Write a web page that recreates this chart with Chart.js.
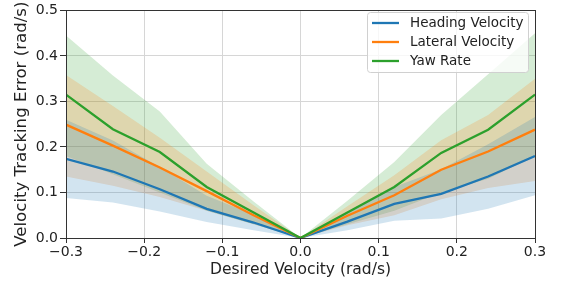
<!DOCTYPE html>
<html>
<head>
<meta charset="utf-8">
<script src="https://cdn.jsdelivr.net/npm/chart.js@4"></script>
<style>
  html, body { margin: 0; padding: 0; background: #fff; }
</style>
</head>
<body>
<canvas id="chart" width="561" height="283"></canvas>
<script>
// x positions of the samples
const xs = [-0.3, -0.24, -0.18, -0.12, -0.06, 0, 0.06, 0.12, 0.18, 0.24, 0.3];

const heading   = [0.174, 0.146, 0.107, 0.064, 0.034, 0, 0.036, 0.075, 0.097, 0.135, 0.180];
const headingLo = [0.088, 0.078, 0.058, 0.035, 0.017, 0, 0.017, 0.038, 0.043, 0.064, 0.094];
const headingHi = [0.260, 0.214, 0.156, 0.093, 0.051, 0, 0.055, 0.112, 0.151, 0.206, 0.266];

const lateral   = [0.249, 0.203, 0.155, 0.103, 0.050, 0, 0.049, 0.094, 0.150, 0.190, 0.238];
const lateralLo = [0.135, 0.115, 0.090, 0.060, 0.030, 0, 0.028, 0.050, 0.085, 0.110, 0.125];
const lateralHi = [0.358, 0.290, 0.220, 0.146, 0.072, 0, 0.070, 0.138, 0.215, 0.270, 0.350];

const yaw   = [0.315, 0.239, 0.189, 0.112, 0.056, 0, 0.056, 0.112, 0.187, 0.238, 0.315];
const yawLo = [0.180, 0.140, 0.100, 0.060, 0.030, 0, 0.030, 0.060, 0.100, 0.130, 0.180];
const yawHi = [0.445, 0.357, 0.278, 0.163, 0.080, 0, 0.082, 0.167, 0.270, 0.360, 0.450];

const labels = ["Heading Velocity", "Lateral Velocity", "Yaw Rate"];
const colors = ["#1f77b4", "#ff7f0e", "#2ca02c"];
const fills = ["rgba(31,119,180,0.2)", "rgba(255,127,14,0.2)", "rgba(44,160,44,0.2)"];

const xTicks = [-0.3, -0.2, -0.1, 0, 0.1, 0.2, 0.3];
const FONT = "DejaVu Sans";

const pts = arr => arr.map((v, i) => ({ x: xs[i], y: v }));

const series = [
  [heading, headingLo, headingHi],
  [lateral, lateralLo, lateralHi],
  [yaw, yawLo, yawHi]
];

const datasets = [];
// bands first: lower, upper (filled down to lower)
series.forEach((s, k) => {
  const lowIdx = datasets.length;
  datasets.push({ data: pts(s[1]), borderWidth: 0, pointRadius: 0, fill: false, order: 10 });
  datasets.push({ data: pts(s[2]), borderWidth: 0, pointRadius: 0, backgroundColor: fills[k],
    fill: { target: lowIdx }, order: 10 });
});
// mean lines
series.forEach((s, k) => {
  datasets.push({ label: labels[k], data: pts(s[0]), borderColor: colors[k], borderWidth: 2.3,
    pointRadius: 0, fill: false, tension: 0, order: 3 - k });
});

// matplotlib-like frame and legend inside the axes
const framePlugin = {
  id: "frame",
  afterDraw(chart) {
    const { ctx, chartArea: a } = chart;
    ctx.save();
    ctx.strokeStyle = "#333";
    ctx.lineWidth = 1;
    ctx.strokeRect(Math.round(a.left) + 0.5, Math.round(a.top) + 0.5,
      Math.round(a.right - a.left), Math.round(a.bottom - a.top));

    // legend
    const bx = 367, by = 12, bw = 161, bh = 60;
    ctx.fillStyle = "rgba(255,255,255,0.8)";
    ctx.strokeStyle = "#d0d0d0";
    ctx.beginPath();
    ctx.roundRect(bx + 0.5, by + 0.5, bw, bh, 3);
    ctx.fill();
    ctx.stroke();
    ctx.font = "13.5px " + FONT;
    ctx.textBaseline = "middle";
    labels.forEach((lab, k) => {
      const y = by + 11 + k * 19;
      ctx.strokeStyle = colors[k];
      ctx.lineWidth = 2.3;
      ctx.beginPath();
      ctx.moveTo(bx + 5, y);
      ctx.lineTo(bx + 32, y);
      ctx.stroke();
      ctx.fillStyle = "#222";
      ctx.fillText(lab, bx + 43, y);
    });
    ctx.restore();
  }
};

new Chart(document.getElementById("chart"), {
  type: "line",
  data: { datasets },
  options: {
    responsive: false,
    animation: false,
    layout: { padding: { top: 5, right: 26, left: 0, bottom: 0 } },
    plugins: {
      legend: { display: false },
      tooltip: { enabled: false },
      filler: { drawTime: "beforeDatasetsDraw" }
    },
    scales: {
      x: {
        type: "linear",
        min: -0.3, max: 0.3,
        afterBuildTicks: s => { s.ticks = xTicks.map(v => ({ value: v })); },
        afterFit: s => { s.height = 45; },
        grid: { color: "#d6d6d6", tickLength: 5, tickColor: "#333", drawTicks: true },
        border: { display: false },
        ticks: {
          color: "#222", padding: 1, maxRotation: 0,
          font: { family: FONT, size: 14 },
          callback: v => v.toFixed(1).replace("-", "\u2212")
        },
        title: { display: true, text: "Desired Velocity (rad/s)", color: "#222",
          font: { family: FONT, size: 15.5 }, padding: { top: 0 } }
      },
      y: {
        min: 0, max: 0.5,
        afterFit: s => { s.width = 66; },
        grid: { color: "#d6d6d6", tickLength: 6, tickColor: "#333" },
        border: { display: false },
        ticks: {
          stepSize: 0.1, color: "#222", padding: 2,
          font: { family: FONT, size: 14 },
          callback: v => v.toFixed(1)
        },
        title: { display: true, text: "Velocity Tracking Error (rad/s)", color: "#222",
          font: { family: FONT, size: 16.6 }, padding: { top: 12, bottom: 0 } }
      }
    }
  },
  plugins: [framePlugin]
});
</script>
</body>
</html>
